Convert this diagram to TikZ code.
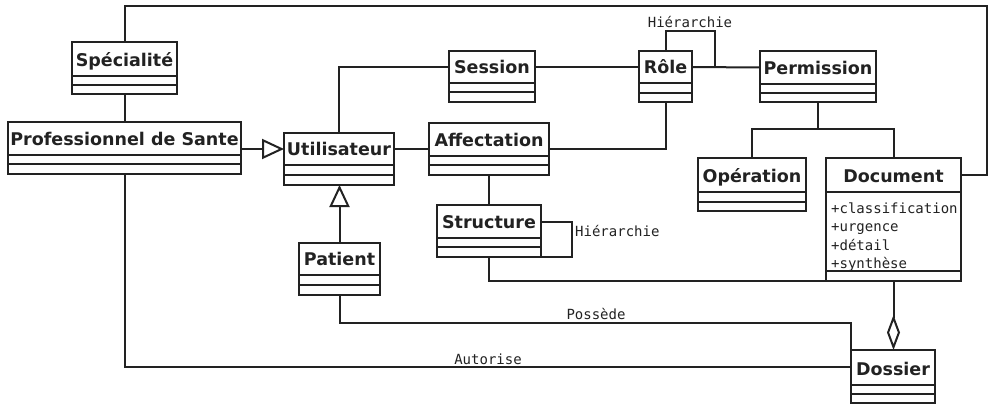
\documentclass[tikz,border=0pt]{standalone}
\usepackage{fontspec}
\usetikzlibrary{arrows.meta,calc}
\newfontfamily\classfont{DejaVu Sans}
\newfontfamily\attrfont{DejaVu Sans Mono}
\definecolor{ink}{HTML}{222222}

\tikzset{
  umlbox/.style={draw=ink, line width=2pt, inner sep=0pt, outer sep=0pt, fill=white},
  umltitle/.style={inner sep=0pt, anchor=base, text=ink,
    font=\classfont\bfseries\fontsize{17.5}{20}\selectfont},
  umlattr/.style={inner sep=0pt, anchor=base west, text=ink,
    font=\attrfont\fontsize{14}{18}\selectfont},
  umllabel/.style={inner sep=0pt, text=ink,
    font=\attrfont\fontsize{14}{18}\selectfont},
  assoc/.style={draw=ink, line width=2pt},
  inherit/.style={assoc, -{Triangle[open, length=22pt, width=20pt]}},
  aggreg/.style={assoc, -{Diamond[open, length=35pt, width=13pt]}},
}

% class box: name, x1, y1, x2, y2 (title bottom), y3 (middle rule), y4 (bottom), title
\newcommand\umlclass[8]{%
  \node[umlbox, anchor=north west, minimum width={#4-#2}, minimum height={#7-#3}]
    (#1) at (#2,#3) {};
  \coordinate (#1-c) at ({(#2+#4)/2},{(#3+#5)/2});
  \node[umltitle] (#1-t) at ({(#2+#4)/2},{#5-9.5}) {#8};
  \draw[assoc] (#2,#5) -- (#4,#5) (#2,#6) -- (#4,#6);
}

\begin{document}
\begin{tikzpicture}[x=1pt, y=-1pt]
\useasboundingbox (0,0) rectangle (989,404);

% classes
\umlclass{spec}{72}{42}{177}{76}{85}{94}{Spécialité}
\umlclass{pro}{8}{122}{241}{154.5}{164}{174}{Professionnel de Sante}
\umlclass{util}{284}{133}{394}{165}{175}{185}{Utilisateur}
\umlclass{sess}{449}{51}{535}{83}{92.5}{102}{Session}
\umlclass{role}{639}{51}{692}{83}{93}{102}{Rôle}
\umlclass{perm}{760}{51}{876}{84}{93}{102}{Permission}
\umlclass{aff}{429}{123}{549}{156}{165}{175}{Affectation}
\umlclass{op}{698}{158}{806}{192}{201.5}{211}{Opération}
\umlclass{doc}{826}{158}{961}{192}{271}{281}{Document}
\umlclass{struc}{437}{205}{541}{238}{247}{257}{Structure}
\umlclass{pat}{299}{243}{380}{275}{285}{295}{Patient}
\umlclass{dos}{851}{350}{935}{384.5}{393.5}{403}{Dossier}

% attributes of Document
\node[umlattr] (doc-a1) at (831,213) {+classification};
\node[umlattr] (doc-a2) at (831,231.5) {+urgence};
\node[umlattr] (doc-a3) at (831,250) {+détail};
\node[umlattr] (doc-a4) at (831,268.5) {+synthèse};

% routing points
\coordinate (topright) at (987,6);
\coordinate (rloop) at (715,31);
\coordinate (rjoin) at (715,67);
\coordinate (pj) at (818,129);
\coordinate (sloop) at (572,257);

% connectors
\draw[assoc] (spec.north) |- (topright) |- (doc-c -| doc.east);
\draw[assoc] (spec.south) -- (pro.north);
\draw[inherit] (pro.east |- util-c) -- (util-c -| util.west);
\draw[assoc] (pro.south) |- (dos-c -| dos.west);
\draw[assoc] (util.north) |- (sess-c -| sess.west);
\draw[assoc] (sess-c -| sess.east) -- (role-c -| role.west);
\draw[assoc] (role-c -| role.east) -- (perm-c -| perm.west);
\draw[assoc] (role.north) |- (rloop) -- (rjoin);
\draw[assoc] (util-c -| util.east) -- (util-c -| aff.west);
\draw[assoc] (aff.east |- util-c) -| (role.south);
\draw[assoc] (aff.south) -- (struc.north);
\draw[assoc] (struc-c -| struc.east) -| (sloop) -- (struc.south east);
\draw[assoc] (struc.south) |- (doc.south west);
\draw[assoc] (perm.south) -- (pj);
\draw[assoc] (pj) -| (op.north);
\draw[assoc] (pj) -| (doc.north);
\draw[inherit] (pat.north) -- (pat.north |- util.south);
\draw[assoc] (pat.south) |- ($(dos.north west)+(0,-27)$) -- (dos.north west);
\draw[aggreg] (doc.south) -- (doc.south |- dos.north);

% association labels
\node[umllabel] (lbl-rh) at (690,22) {Hiérarchie};
\node[umllabel, anchor=west] (lbl-sh) at (575,231) {Hiérarchie};
\node[umllabel] (lbl-pos) at (596,314) {Possède};
\node[umllabel] (lbl-aut) at (488,359) {Autorise};
\end{tikzpicture}
\end{document}
